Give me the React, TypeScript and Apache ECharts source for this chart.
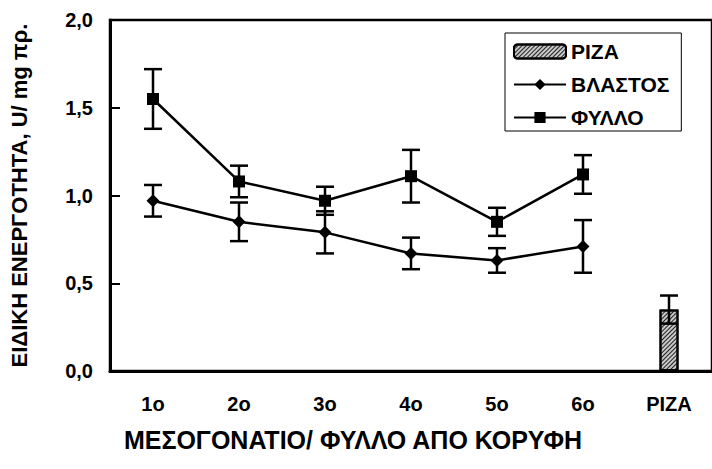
import React, { useEffect, useRef } from "react";
import * as echarts from "echarts";

// Categories along the x axis: internode / leaf counted from the apex, then root
const categories = ["1ο", "2ο", "3ο", "4ο", "5ο", "6ο", "ΡΙΖΑ"];

// Stem (ΒΛΑΣΤΟΣ) specific activity and its error
const stemValues = [0.97, 0.85, 0.79, 0.67, 0.63, 0.71];
const stemErrors = [0.09, 0.11, 0.12, 0.09, 0.07, 0.15];

// Leaf (ΦΥΛΛΟ) specific activity and its error
const leafValues = [1.55, 1.08, 0.97, 1.11, 0.85, 1.12];
const leafErrors = [0.17, 0.09, 0.08, 0.15, 0.08, 0.11];

// Root (ΡΙΖΑ) specific activity and its error
const rootValues = [0.35];
const rootErrors = [0.08];

const yTicks = [0, 0.5, 1.0, 1.5, 2.0];

const FONT = "Liberation Sans, Arial, sans-serif";

function errorData(values: number[], errors: number[], offset = 0) {
  return values.map((v, i) => [i + offset, v - errors[i], v + errors[i]]);
}

function errorSeries(name: string, data: number[][]) {
  return {
    type: "custom",
    name,
    z: 5,
    silent: true,
    data,
    renderItem: (_params: any, api: any) => {
      const x = api.value(0);
      const lo = api.coord([x, api.value(1)]);
      const hi = api.coord([x, api.value(2)]);
      const half = 9;
      const style = { stroke: "#000", lineWidth: 2.5 };
      return {
        type: "group",
        children: [
          { type: "line", shape: { x1: lo[0], y1: lo[1], x2: hi[0], y2: hi[1] }, style },
          { type: "line", shape: { x1: hi[0] - half, y1: hi[1], x2: hi[0] + half, y2: hi[1] }, style },
          { type: "line", shape: { x1: lo[0] - half, y1: lo[1], x2: lo[0] + half, y2: lo[1] }, style },
        ],
      };
    },
  };
}

export default function App() {
  const ref = useRef<HTMLDivElement>(null);

  useEffect(() => {
    if (!ref.current) return;
    const chart = echarts.init(ref.current, undefined, { renderer: "svg" });

    const rootIndex = categories.length - 1;
    const barData = categories.map((_, i) => (i === rootIndex ? rootValues[0] : null));
    const pad = (arr: number[]) => categories.map((_, i) => (i < arr.length ? arr[i] : null));

    chart.setOption({
      animation: false,
      backgroundColor: "#fff",
      grid: {
        left: 105,
        width: 614,
        top: 20,
        height: 351,
        show: true,
        borderColor: "#000",
        borderWidth: 2.5,
        backgroundColor: "transparent",
      },
      legend: {
        orient: "vertical",
        left: 505,
        top: 33,
        itemWidth: 52,
        itemHeight: 14,
        itemGap: 12,
        borderColor: "#000",
        borderWidth: 1,
        padding: [8, 12, 3, 8],
        backgroundColor: "#fff",
        data: ["ΡΙΖΑ", "ΒΛΑΣΤΟΣ", "ΦΥΛΛΟ"],
        textStyle: { fontFamily: FONT, fontWeight: "bold", fontSize: 21, color: "#000" },
      },
      xAxis: {
        type: "category",
        data: categories,
        boundaryGap: true,
        axisLine: { show: true, lineStyle: { color: "#000", width: 3 } },
        axisTick: { show: false },
        axisLabel: {
          margin: 23,
          fontFamily: FONT,
          fontWeight: "bold",
          fontSize: 20,
          color: "#000",
        },
        splitLine: { show: false },
      },
      yAxis: {
        type: "value",
        min: 0,
        max: 2,
        interval: 0.5,
        name: "ΕΙΔΙΚΗ ΕΝΕΡΓΟΤΗΤΑ, U/ mg πρ.",
        nameLocation: "middle",
        nameGap: 80,
        nameTextStyle: { fontFamily: FONT, fontWeight: "bold", fontSize: 22, color: "#000" },
        axisLine: { show: true, lineStyle: { color: "#000", width: 3 } },
        axisTick: { show: true, inside: true, length: 10, lineStyle: { color: "#000", width: 2 } },
        axisLabel: {
          margin: 17,
          fontFamily: FONT,
          fontWeight: "bold",
          fontSize: 20,
          color: "#000",
          formatter: (v: number) =>
            yTicks.includes(v) ? v.toFixed(1).replace(".", ",") : "",
        },
        splitLine: { show: false },
      },
      graphic: [
        {
          type: "text",
          x: 353,
          y: 440,
          style: {
            text: "ΜΕΣΟΓΟΝΑΤΙΟ/ ΦΥΛΛΟ ΑΠΟ ΚΟΡΥΦΗ",
            fontFamily: FONT,
            fontWeight: "bold",
            fontSize: 25,
            fill: "#000",
            textAlign: "center",
            textVerticalAlign: "middle",
          },
        },
      ],
      series: [
        {
          type: "bar",
          name: "ΡΙΖΑ",
          data: barData,
          barWidth: 19,
          z: 2,
          itemStyle: {
            color: "#c8c8c8",
            borderColor: "#000",
            borderWidth: 2,
            decal: {
              symbol: "rect",
              color: "#222",
              backgroundColor: "#c8c8c8",
              dashArrayX: [1, 0],
              dashArrayY: [1, 2],
              rotation: -Math.PI / 4,
              symbolSize: 1,
            },
          },
        },
        {
          type: "line",
          name: "ΒΛΑΣΤΟΣ",
          data: pad(stemValues),
          symbol: "diamond",
          symbolSize: [13, 13],
          lineStyle: { color: "#000", width: 2.5 },
          itemStyle: { color: "#000" },
          z: 4,
        },
        {
          type: "line",
          name: "ΦΥΛΛΟ",
          data: pad(leafValues),
          symbol: "rect",
          symbolSize: 12,
          lineStyle: { color: "#000", width: 2.5 },
          itemStyle: { color: "#000" },
          z: 4,
        },
        errorSeries("ΒΛΑΣΤΟΣ-err", errorData(stemValues, stemErrors)),
        errorSeries("ΦΥΛΛΟ-err", errorData(leafValues, leafErrors)),
        errorSeries("ΡΙΖΑ-err", errorData(rootValues, rootErrors, rootIndex)),
      ],
    });

    return () => chart.dispose();
  }, []);

  return (
    <div
      ref={ref}
      style={{ position: "fixed", left: 0, top: 0, width: 712, height: 469 }}
    />
  );
}
